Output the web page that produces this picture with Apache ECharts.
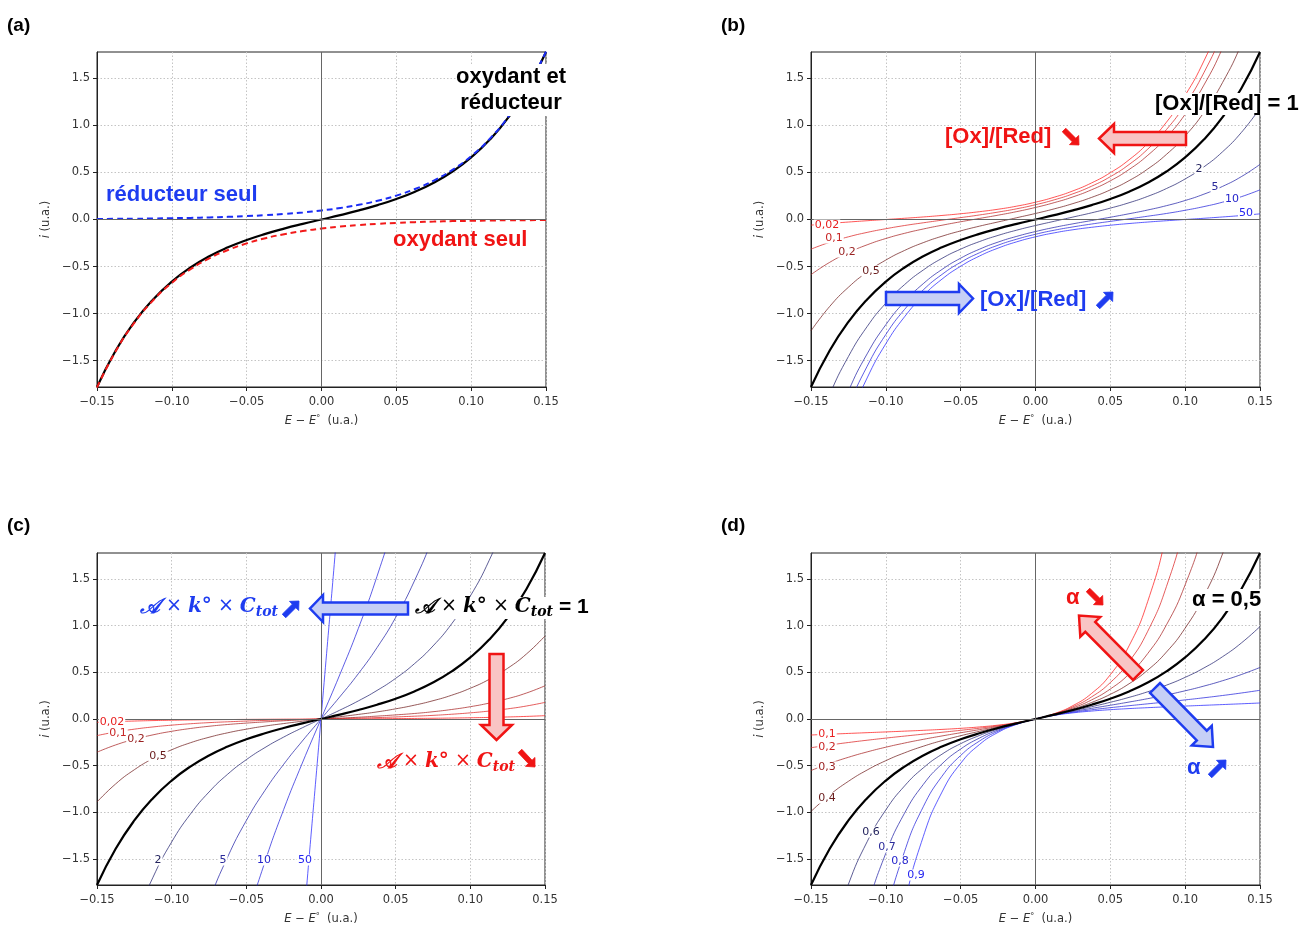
<!DOCTYPE html>
<html><head><meta charset="utf-8">
<script src="https://cdn.jsdelivr.net/npm/echarts@6/dist/echarts.min.js"></script>
<style>html,body{margin:0;padding:0;background:#fff}#c{width:1303px;height:926px}</style>
</head><body><div id="c"></div>
<script>
// ---------------- DATA ----------------
const xs = [-0.15,-0.1375,-0.125,-0.1125,-0.1,-0.0875,-0.075,-0.0625,-0.05,-0.0375,-0.025,-0.0125,0,0.0125,0.025,0.0375,0.05,0.0625,0.075,0.0875,0.1,0.1125,0.125,0.1375,0.15];
const xTicks = [-0.15,-0.10,-0.05,0,0.05,0.10,0.15];
const yTicks = [-1.5,-1.0,-0.5,0,0.5,1.0,1.5];

// (a)
const aBoth = [-1.780,-1.392,-1.088,-0.849,-0.660,-0.510,-0.391,-0.296,-0.218,-0.153,-0.097,-0.047,0,0.047,0.097,0.153,0.218,0.296,0.391,0.510,0.660,0.849,1.088,1.392,1.780];
const aRedOnly = [0.005,0.007,0.008,0.011,0.014,0.017,0.022,0.028,0.036,0.046,0.059,0.075,0.096,0.122,0.156,0.199,0.254,0.324,0.413,0.528,0.673,0.859,1.096,1.399,1.785];
const aOxOnly = [-1.785,-1.399,-1.096,-0.859,-0.673,-0.528,-0.413,-0.324,-0.254,-0.199,-0.156,-0.122,-0.096,-0.075,-0.059,-0.046,-0.036,-0.028,-0.022,-0.017,-0.014,-0.011,-0.008,-0.007,-0.005];

// (b) [Ox]/[Red]
const bLabels = ['0,02','0,1','0,2','0,5','1','2','5','10','50'];
const bR002 = [-0.060,-0.042,-0.027,-0.013,0.000,0.013,0.027,0.043,0.061,0.083,0.109,0.142,0.184,0.237,0.304,0.389,0.497,0.634,0.810,1.034,1.320,1.684,2.149,2.743,3.500];
const bR01 = [-0.315,-0.242,-0.184,-0.137,-0.098,-0.064,-0.035,-0.007,0.020,0.048,0.079,0.114,0.157,0.209,0.273,0.354,0.455,0.584,0.748,0.956,1.222,1.560,1.992,2.542,3.244];
const bR02 = [-0.586,-0.455,-0.352,-0.269,-0.202,-0.147,-0.101,-0.061,-0.024,0.011,0.046,0.084,0.128,0.179,0.240,0.316,0.411,0.531,0.682,0.874,1.118,1.428,1.824,2.329,2.973];
const bR05 = [-1.183,-0.924,-0.720,-0.559,-0.431,-0.329,-0.246,-0.178,-0.121,-0.071,-0.026,0.019,0.064,0.113,0.169,0.235,0.315,0.413,0.537,0.692,0.889,1.138,1.456,1.861,2.376];
const bR1 = [-1.780,-1.392,-1.088,-0.849,-0.660,-0.510,-0.391,-0.296,-0.218,-0.153,-0.097,-0.047,0,0.047,0.097,0.153,0.218,0.296,0.391,0.510,0.660,0.849,1.088,1.392,1.780];
const bR2 = [-2.376,-1.861,-1.456,-1.138,-0.889,-0.692,-0.537,-0.413,-0.315,-0.235,-0.169,-0.113,-0.064,-0.019,0.026,0.071,0.121,0.178,0.246,0.329,0.431,0.559,0.720,0.924,1.183];
const bR5 = [-2.973,-2.329,-1.824,-1.428,-1.118,-0.874,-0.682,-0.531,-0.411,-0.316,-0.240,-0.179,-0.128,-0.084,-0.046,-0.011,0.024,0.061,0.101,0.147,0.202,0.269,0.352,0.455,0.586];
const bR10 = [-3.244,-2.542,-1.992,-1.560,-1.222,-0.956,-0.748,-0.584,-0.455,-0.354,-0.273,-0.209,-0.157,-0.114,-0.079,-0.048,-0.020,0.007,0.035,0.064,0.098,0.137,0.184,0.242,0.315];
const bR50 = [-3.500,-2.743,-2.149,-1.684,-1.320,-1.034,-0.810,-0.634,-0.497,-0.389,-0.304,-0.237,-0.184,-0.142,-0.109,-0.083,-0.061,-0.043,-0.027,-0.013,0.000,0.013,0.027,0.042,0.060];

// (c) A x k° x Ctot
const cLabels = ['0,02','0,1','0,2','0,5','1','2','5','10','50'];
const cK002 = [-0.0356,-0.0278,-0.0218,-0.0170,-0.0132,-0.0102,-0.0078,-0.0059,-0.0044,-0.0031,-0.0019,-0.0009,0,0.0009,0.0019,0.0031,0.0044,0.0059,0.0078,0.0102,0.0132,0.0170,0.0218,0.0278,0.0356];
const cK01 = [-0.178,-0.139,-0.109,-0.085,-0.066,-0.051,-0.039,-0.030,-0.022,-0.015,-0.010,-0.005,0,0.005,0.010,0.015,0.022,0.030,0.039,0.051,0.066,0.085,0.109,0.139,0.178];
const cK02 = [-0.356,-0.278,-0.218,-0.170,-0.132,-0.102,-0.078,-0.059,-0.044,-0.031,-0.019,-0.009,0,0.009,0.019,0.031,0.044,0.059,0.078,0.102,0.132,0.170,0.218,0.278,0.356];
const cK05 = [-0.890,-0.696,-0.544,-0.424,-0.330,-0.255,-0.196,-0.148,-0.109,-0.076,-0.049,-0.024,0,0.024,0.049,0.076,0.109,0.148,0.196,0.255,0.330,0.424,0.544,0.696,0.890];
const cK1 = [-1.780,-1.392,-1.088,-0.849,-0.660,-0.510,-0.391,-0.296,-0.218,-0.153,-0.097,-0.047,0,0.047,0.097,0.153,0.218,0.296,0.391,0.510,0.660,0.849,1.088,1.392,1.780];
const cK2 = [-3.559,-2.784,-2.176,-1.697,-1.319,-1.021,-0.783,-0.592,-0.436,-0.306,-0.194,-0.094,0,0.094,0.194,0.306,0.436,0.592,0.783,1.021,1.319,1.697,2.176,2.784,3.559];
const cK5 = [-8.899,-6.961,-5.439,-4.242,-3.298,-2.551,-1.956,-1.479,-1.089,-0.765,-0.486,-0.236,0,0.236,0.486,0.765,1.089,1.479,1.956,2.551,3.298,4.242,5.439,6.961,8.899];
const cK10 = [-17.80,-13.92,-10.88,-8.485,-6.597,-5.103,-3.913,-2.958,-2.178,-1.530,-0.971,-0.472,0,0.472,0.971,1.530,2.178,2.958,3.913,5.103,6.597,8.485,10.88,13.92,17.80];
const cK50 = [-88.99,-69.61,-54.39,-42.42,-32.98,-25.51,-19.56,-14.79,-10.89,-7.648,-4.856,-2.358,0,2.358,4.856,7.648,10.89,14.79,19.56,25.51,32.98,42.42,54.39,69.61,88.99];

// (d) alpha
const dLabels = ['0,1','0,2','0,3','0,4','0,5','0,6','0,7','0,8','0,9'];
const dA01 = [-0.1715,-0.1630,-0.1548,-0.1467,-0.1386,-0.1303,-0.1215,-0.1116,-0.0999,-0.0852,-0.0658,-0.0388,0,0.0573,0.1435,0.2745,0.4753,0.7842,1.2612,1.9983,3.139,4.909,7.649,11.90,18.48];
const dA02 = [-0.3078,-0.2787,-0.2521,-0.2276,-0.2048,-0.1833,-0.1628,-0.1424,-0.1214,-0.0986,-0.0725,-0.0407,0,0.0546,0.1302,0.2372,0.3910,0.6145,0.9411,1.4205,2.1256,3.1645,4.696,6.958,10.295];
const dA03 = [-0.5526,-0.4766,-0.4105,-0.3529,-0.3025,-0.2579,-0.2181,-0.1817,-0.1475,-0.1142,-0.0799,-0.0428,0,0.0520,0.1181,0.2049,0.3218,0.4816,0.7025,1.0098,1.4392,2.0406,2.8845,4.0697,5.7353];
const dA04 = [-0.9916,-0.8145,-0.6682,-0.5472,-0.4467,-0.3628,-0.2921,-0.2318,-0.1793,-0.1321,-0.0881,-0.0449,0,0.0495,0.1071,0.1770,0.2648,0.3775,0.5244,0.7180,0.9746,1.3162,1.7720,2.3812,3.1961];
const dA05 = [-1.780,-1.392,-1.088,-0.849,-0.660,-0.510,-0.391,-0.296,-0.218,-0.153,-0.097,-0.047,0,0.047,0.097,0.153,0.218,0.296,0.391,0.510,0.660,0.849,1.088,1.392,1.780];
const dA06 = [-3.1961,-2.3812,-1.7720,-1.3162,-0.9746,-0.7180,-0.5244,-0.3775,-0.2648,-0.1770,-0.1071,-0.0495,0,0.0449,0.0881,0.1321,0.1793,0.2318,0.2921,0.3628,0.4467,0.5472,0.6682,0.8145,0.9916];
const dA07 = [-5.7353,-4.0697,-2.8845,-2.0406,-1.4392,-1.0098,-0.7025,-0.4816,-0.3218,-0.2049,-0.1181,-0.0520,0,0.0428,0.0799,0.1142,0.1475,0.1817,0.2181,0.2579,0.3025,0.3529,0.4105,0.4766,0.5526];
const dA08 = [-10.295,-6.958,-4.696,-3.1645,-2.1256,-1.4205,-0.9411,-0.6145,-0.3910,-0.2372,-0.1302,-0.0546,0,0.0407,0.0725,0.0986,0.1214,0.1424,0.1628,0.1833,0.2048,0.2276,0.2521,0.2787,0.3078];
const dA09 = [-18.48,-11.90,-7.649,-4.909,-3.139,-1.9983,-1.2612,-0.7842,-0.4753,-0.2745,-0.1435,-0.0573,0,0.0388,0.0658,0.0852,0.0999,0.1116,0.1215,0.1303,0.1386,0.1467,0.1548,0.1630,0.1715];

// ---------------- STYLE ----------------
const lineCols = ['rgba(255,30,30,0.75)','rgba(220,40,40,0.75)','rgba(170,40,40,0.75)','rgba(115,35,35,0.75)','#000','rgba(40,40,115,0.75)','rgba(40,40,170,0.75)','rgba(40,40,220,0.75)','rgba(40,40,255,0.75)'];
const labCols = ['#e81e1e','#c82424','#9a2222','#6a1c1c','#000','#24245e','#2a2a9a','#2424cc','#2424f0'];
const RED = '#f01414', BLUE = '#1e3cf0';

const chart = echarts.init(document.getElementById('c'), null, {renderer:'canvas'});
const grids = [
  {left:97, top:52, width:449, height:335},
  {left:811, top:52, width:449, height:335},
  {left:97, top:553, width:448, height:334},
  {left:811, top:553, width:449, height:334}
];
const fmtX = v => (v < -1e-9 ? '\u2212' : '') + Math.abs(v).toFixed(2);
const fmtY = v => (v < -1e-9 ? '\u2212' : '') + Math.abs(v).toFixed(1);
const axisCol = '#222', txtCol = '#333';
const xAxes = grids.map((g,i)=>({
  type:'value', gridIndex:i, min:-0.15, max:0.15, interval:0.05,
  axisLine:{show:true, onZero:false, lineStyle:{color:axisCol, width:1}},
  axisTick:{show:true, length:4, lineStyle:{color:axisCol}},
  axisLabel:{formatter:fmtX, fontSize:11.5, color:txtCol, margin:9, fontFamily:'DejaVu Sans'},
  splitLine:{show:true, lineStyle:{color:'#c4c4c4', type:[1.5,2], width:1}},
  name:'{i|E} \u2212 {i|E}{s|\u00b0}  (u.a.)', nameLocation:'middle', nameGap:28,
  nameTextStyle:{fontSize:11.5, color:txtCol, fontFamily:'DejaVu Sans', rich:{i:{fontStyle:'italic', fontSize:11.5, color:txtCol, fontFamily:'DejaVu Sans'}, s:{fontSize:8, verticalAlign:'top', color:txtCol}}}
}));
const yAxes = grids.map((g,i)=>({
  type:'value', gridIndex:i, min:-1.78, max:1.78,
  axisLine:{show:true, onZero:false, lineStyle:{color:axisCol, width:1}},
  axisTick:{show:true, length:4, lineStyle:{color:axisCol}, customValues:yTicks},
  axisLabel:{formatter:fmtY, fontSize:11.5, color:txtCol, margin:7, fontFamily:'DejaVu Sans', customValues:yTicks},
  splitLine:{show:true, lineStyle:{color:'#c4c4c4', type:[1.5,2], width:1}},
  name:'{i|i} (u.a.)', nameLocation:'middle', nameGap:45, nameRotate:90,
  nameTextStyle:{fontSize:11.5, color:txtCol, fontFamily:'DejaVu Sans', rich:{i:{fontStyle:'italic', fontSize:11.5, color:txtCol, fontFamily:'DejaVu Sans'}}}
}));

function mk(gi, ys, color, width, dash, z){
  return {type:'line', xAxisIndex:gi, yAxisIndex:gi, data:xs.map((x,i)=>[x,ys[i]]),
    symbol:'none', showSymbol:false, smooth:0.5, clip:true, silent:true, animation:false, z:z||2,
    lineStyle:{color:color, width:width, type:dash||'solid'}};
}
function zeroLines(gi){
  return {type:'line', xAxisIndex:gi, yAxisIndex:gi, data:[], silent:true, animation:false, z:1,
    markLine:{silent:true, symbol:'none', animation:false, label:{show:false},
      lineStyle:{color:'#666', width:1, type:'solid'}, data:[{yAxis:0},{xAxis:0}]}};
}
const series = [zeroLines(0), zeroLines(1), zeroLines(2), zeroLines(3)];
// (a)
series.push(mk(0, aBoth, '#000', 2.2, 'solid', 3));
series.push(mk(0, aRedOnly, '#1a2cf5', 2, [6,4], 4));
series.push(mk(0, aOxOnly, '#f21a1a', 2, [6,4], 4));
// (b)
[bR002,bR01,bR02,bR05,bR2,bR5,bR10,bR50].forEach((d,j)=>{const k=j<4?j:j+1; series.push(mk(1,d,lineCols[k],1,'solid',2));});
series.push(mk(1, bR1, '#000', 2.2, 'solid', 3));
// (c)
[cK002,cK01,cK02,cK05,cK2,cK5,cK10,cK50].forEach((d,j)=>{const k=j<4?j:j+1; series.push(mk(2,d,lineCols[k],1,'solid',2));});
series.push(mk(2, cK1, '#000', 2.2, 'solid', 3));
// (d)
[dA01,dA02,dA03,dA04,dA06,dA07,dA08,dA09].forEach((d,j)=>{const k=j<4?j:j+1; series.push(mk(3,d,lineCols[k],1,'solid',2));});
series.push(mk(3, dA05, '#000', 2.2, 'solid', 3));

// ---------------- ANNOTATIONS ----------------
function arrowPts(x1,y1,x2,y2,sw,hw,hl){
  const dx=x2-x1, dy=y2-y1, L=Math.hypot(dx,dy), ux=dx/L, uy=dy/L, nx=-uy, ny=ux;
  const bx=x2-ux*hl, by=y2-uy*hl;
  return [[x1+nx*sw/2,y1+ny*sw/2],[bx+nx*sw/2,by+ny*sw/2],[bx+nx*hw/2,by+ny*hw/2],[x2,y2],[bx-nx*hw/2,by-ny*hw/2],[bx-nx*sw/2,by-ny*sw/2],[x1-nx*sw/2,y1-ny*sw/2]];
}
function arrow(x1,y1,x2,y2,sw,hw,hl,stroke,fill){
  return {type:'polygon', z:100, silent:true, shape:{points:arrowPts(x1,y1,x2,y2,sw,hw,hl)}, style:{fill:fill, stroke:stroke, lineWidth:2.5, lineJoin:'miter'}};
}
function mini(x1,y1,x2,y2,col){
  return {type:'polygon', z:103, silent:true, shape:{points:arrowPts(x1,y1,x2,y2,5,13,7)}, style:{fill:col, stroke:col, lineWidth:0.8, lineJoin:'miter'}};
}
const BF = 'bold 22px "Liberation Sans", Arial, sans-serif';
function txt(x,y,text,color,opts){
  opts=opts||{};
  return {type:'text', x:x, y:y, z:101, silent:true, style:Object.assign({text:text, fill:color, font:opts.font||BF, textAlign:opts.align||'left', textVerticalAlign:'middle'}, opts.style||{})};
}
function mathRich(col){
  const base = {fontFamily:'DejaVu Serif', fontStyle:'italic', fontWeight:'bold', fontSize:20, color:col, lineHeight:22, verticalAlign:'top'};
  return {
    s:Object.assign({}, base, {fontSize:21}),
    o:Object.assign({}, base, {fontStyle:'normal', fontWeight:'normal', fontFamily:'DejaVu Sans', fontSize:19}),
    b:base,
    t:Object.assign({}, base, {fontSize:14, lineHeight:13, padding:[12,0,0,0], verticalAlign:'bottom'}),
    e:Object.assign({}, base, {fontStyle:'normal', fontFamily:'Liberation Sans', fontSize:21})
  };
}
function math(x,y,tail,col,bg){
  return {type:'text', x:x, y:y, z:101, silent:true, style:{
    text:'{s|\ud835\udc9c}{o| \u00d7 }{b|k\u00b0}{o| \u00d7 }{b|C}{t|tot}'+tail,
    rich:mathRich(col), fill:col, textAlign:'left', textVerticalAlign:'middle', backgroundColor:bg||'transparent'}};
}
function lab(x,y,t,c){
  return {type:'text', x:x, y:y, z:102, silent:true, style:{text:t, fill:c, font:'11px "DejaVu Sans"', textAlign:'center', textVerticalAlign:'middle', backgroundColor:'#fff', padding:[0,1]}};
}
const PF = 'bold 19px "Liberation Sans", Arial, sans-serif';
const graphic = [
  txt(7,26,'(a)','#000',{font:PF}), txt(721,26,'(b)','#000',{font:PF}),
  txt(7,526,'(c)','#000',{font:PF}), txt(721,526,'(d)','#000',{font:PF}),
  // (a)
  {type:'text', x:511, y:90, z:101, silent:true, style:{text:'oxydant et\nréducteur', fill:'#000', font:BF, lineHeight:26, textAlign:'center', textVerticalAlign:'middle', backgroundColor:'#fff'}},
  txt(106,195,'réducteur seul',BLUE),
  txt(393,240,'oxydant seul',RED),
  // (b)
  txt(1155,104,'[Ox]/[Red] = 1','#000',{style:{backgroundColor:'#fff'}}),
  txt(945,137,'[Ox]/[Red]',RED), mini(1064,130,1079,145,RED),
  arrow(1186,138.5,1099,138.5,13,29,15,RED,'#f9c4c4'),
  arrow(886,298.5,973,298.5,13,29,14,BLUE,'#c6cff6'),
  txt(980,300,'[Ox]/[Red]',BLUE), mini(1098,307,1113,292,BLUE),
  lab(827,225,'0,02',labCols[0]), lab(834,238,'0,1',labCols[1]), lab(847,252,'0,2',labCols[2]), lab(871,271,'0,5',labCols[3]),
  lab(1199,169,'2',labCols[5]), lab(1215,187,'5',labCols[6]), lab(1232,199,'10',labCols[7]), lab(1246,213,'50',labCols[8]),
  // (c)
  math(140,608,'',BLUE), mini(284,616,299,601,BLUE),
  arrow(408,608.5,310,608.5,12,27,13,BLUE,'#c6cff6'),
  math(415,608,'{e| = 1}','#000','#fff'),
  arrow(496.5,654,496.5,740,14,31,15,RED,'#f9c4c4'),
  math(377,763,'',RED), mini(520,751,535,767,RED),
  lab(112,722,'0,02',labCols[0]), lab(118,733,'0,1',labCols[1]), lab(136,739,'0,2',labCols[2]), lab(158,756,'0,5',labCols[3]),
  lab(158,860,'2',labCols[5]), lab(223,860,'5',labCols[6]), lab(264,860,'10',labCols[7]), lab(305,860,'50',labCols[8]),
  // (d)
  txt(1192,600,'\u03b1 = 0,5','#000',{style:{backgroundColor:'#fff'}}),
  txt(1066,598,'\u03b1',RED), mini(1088,590,1103,605,RED),
  arrow(1138,675,1079,615.5,14,28,16,RED,'#f9c4c4'),
  arrow(1155,688,1213,747,14,28,16,BLUE,'#c6cff6'),
  txt(1187,768,'\u03b1',BLUE), mini(1210,776,1226,760,BLUE),
  lab(827,734,'0,1',labCols[0]), lab(827,747,'0,2',labCols[1]), lab(827,767,'0,3',labCols[2]), lab(827,798,'0,4',labCols[3]),
  lab(871,832,'0,6',labCols[5]), lab(887,847,'0,7',labCols[6]), lab(900,861,'0,8',labCols[7]), lab(916,875,'0,9',labCols[8])
];

chart.setOption({
  animation:false, backgroundColor:'#fff',
  grid:grids.map(g=>Object.assign({show:true, borderColor:axisCol, borderWidth:1, backgroundColor:'transparent'}, g)),
  xAxis:xAxes, yAxis:yAxes, series:series, graphic:graphic
});
</script></body></html>
